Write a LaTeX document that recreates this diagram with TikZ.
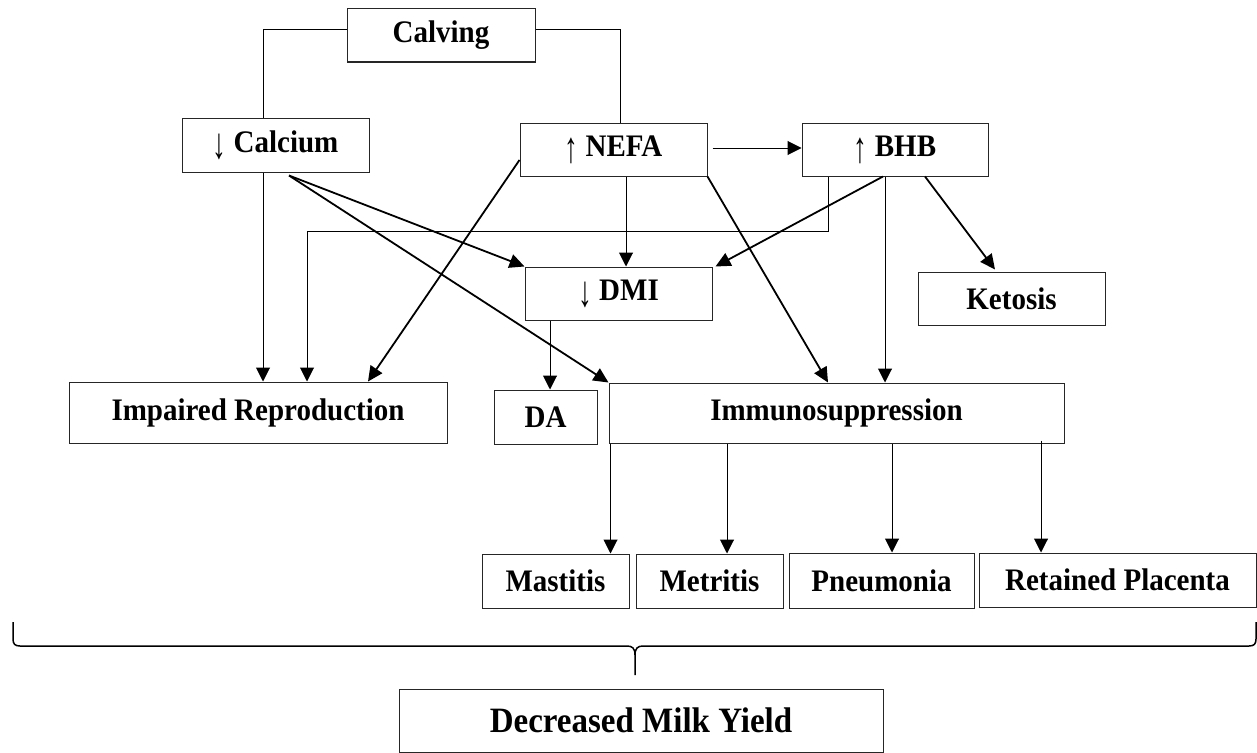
\documentclass[tikz,border=0pt]{standalone}
\usepackage{fontspec}
\usepackage{graphicx}
\setmainfont{Liberation Serif}
\usetikzlibrary{arrows.meta}
\newcommand{\tx}[1]{\scalebox{1}[1.08]{#1}}
\newcommand{\dnar}{\raisebox{-0.2em}{\scalebox{0.95}[1.5]{\mdseries ↓}}}
\newcommand{\upar}{\raisebox{-0.2em}{\scalebox{0.95}[1.5]{\mdseries ↑}}}
\begin{document}
\begin{tikzpicture}[x=1pt,y=-1pt,
  box/.style={draw=black!85, line width=1pt, inner sep=0pt, font=\fontsize{29}{34}\selectfont\bfseries},
  arr/.style={line width=1pt, -{Triangle[length=14pt,width=14pt]}},
  darr/.style={line width=1.8pt, -{Triangle[length=15pt,width=14pt]}},
  ln/.style={line width=1pt}]
\useasboundingbox (0,0) rectangle (1257,752);
% boxes
\node[box, minimum width=188pt, minimum height=53pt] (calving) at (441,35.5) {\tx{Calving}};
\node[box, minimum width=187pt, minimum height=54pt] (calcium) at (275.5,145) {\dnar{} \tx{Calcium}};
\node[box, minimum width=187pt, minimum height=53pt] (nefa) at (613.5,149.5) {\upar{} \tx{NEFA}};
\node[box, minimum width=186pt, minimum height=53pt] (bhb) at (895,149.5) {\upar{} \tx{BHB}};
\node[box, minimum width=187pt, minimum height=53pt] (dmi) at (618.5,293.5) {\dnar{} \tx{DMI}};
\node[box, minimum width=187pt, minimum height=53pt] (ketosis) at (1011.5,298.5) {\tx{Ketosis}};
\node[box, minimum width=378pt, minimum height=61pt] (ir) at (258,412.5) {\tx{Impaired Reproduction}};
\node[box, minimum width=103pt, minimum height=54pt] (da) at (545.5,417) {\tx{DA}};
\node[box, minimum width=455pt, minimum height=60pt] (immuno) at (836.5,413) {\tx{Immunosuppression}};
\node[box, minimum width=147pt, minimum height=54pt] (mastitis) at (555.5,581) {\tx{Mastitis}};
\node[box, minimum width=147pt, minimum height=54pt] (metritis) at (709.5,581) {\tx{Metritis}};
\node[box, minimum width=185pt, minimum height=55pt] (pneumonia) at (881.5,580.5) {\tx{Pneumonia}};
\node[box, minimum width=277pt, minimum height=54pt] (rp) at (1117.5,580) {\tx{Retained Placenta}};
\node[box, minimum width=484pt, minimum height=63pt, font=\fontsize{33}{38}\selectfont\bfseries] (dmy) at (641,720.5) {\tx{Decreased Milk Yield}};
% calving lines
\draw[ln] ([yshift=5.5pt]calving.west) -| ([xshift=-12.5pt]calcium.north);
\draw[ln] ([yshift=5.5pt]calving.east) -| ([xshift=6.5pt]nefa.north);
% nefa -> bhb
\draw[arr] ([xshift=5pt,yshift=1.5pt]nefa.east) -- ([yshift=1.5pt]bhb.west);
% calcium -> ir
\draw[arr] ([xshift=-12.5pt]calcium.south) -- ([xshift=-12.5pt]calcium.south |- ir.north);
% bhb elbow -> ir
\coordinate (elbow) at (307,231);
\draw[arr] ([xshift=-67pt]bhb.south) |- (elbow) -- (elbow |- ir.north);
% nefa -> ir
\draw[darr] ([yshift=-10.5pt]nefa.west) -- ([xshift=110pt]ir.north);
% calcium -> dmi, immuno
\draw[darr] ([xshift=13.5pt,yshift=-3pt]calcium.south) -- (dmi.north west);
\draw[darr] ([xshift=13.5pt,yshift=-3pt]calcium.south) -- (immuno.north west);
% nefa -> dmi
\draw[arr] ([xshift=12.5pt]nefa.south) -- ([xshift=12.5pt]nefa.south |- dmi.north);
% nefa -> immuno
\draw[darr] (nefa.south east) -- ([xshift=-8.5pt]immuno.north);
% bhb -> dmi
\draw[darr] ([xshift=-12pt]bhb.south) -- ([xshift=3pt]dmi.north east);
% bhb -> immuno
\draw[arr] ([xshift=-10pt]bhb.south) -- ([xshift=-10pt]bhb.south |- immuno.north);
% bhb -> ketosis
\draw[darr] ([xshift=30pt]bhb.south) -- ([xshift=-16.5pt,yshift=2pt]ketosis.north);
% dmi -> da
\draw[arr] ([xshift=-68.5pt]dmi.south) -- ([xshift=-68.5pt]dmi.south |- da.north);
% immuno -> diseases
\draw[arr] ([xshift=2pt]immuno.south west) -- ([xshift=2pt]immuno.south west |- mastitis.north);
\draw[arr] ([xshift=-109.5pt]immuno.south) -- ([xshift=-109.5pt]immuno.south |- metritis.north);
\draw[arr] ([xshift=55.5pt]immuno.south) -- ([xshift=55.5pt]immuno.south |- pneumonia.north);
\draw[arr] ([xshift=204.5pt,yshift=3pt]immuno.south) -- ([xshift=204.5pt]immuno.south |- rp.north);
% brace
\coordinate (brl) at (13,622);
\coordinate (brr) at (1256,622);
\coordinate (brt) at (635,675);
\draw[line width=1.5pt] (brl) -- (13,639) .. controls (13,644) and (15,646) .. (20,646) -- (627,646)
  .. controls (632,646) and (635,648) .. (635,655) -- (brt);
\draw[line width=1.5pt] (brr) -- (1256,639) .. controls (1256,644) and (1254,646) .. (1249,646) -- (643,646)
  .. controls (638,646) and (635,648) .. (635,655);
\end{tikzpicture}
\end{document}
